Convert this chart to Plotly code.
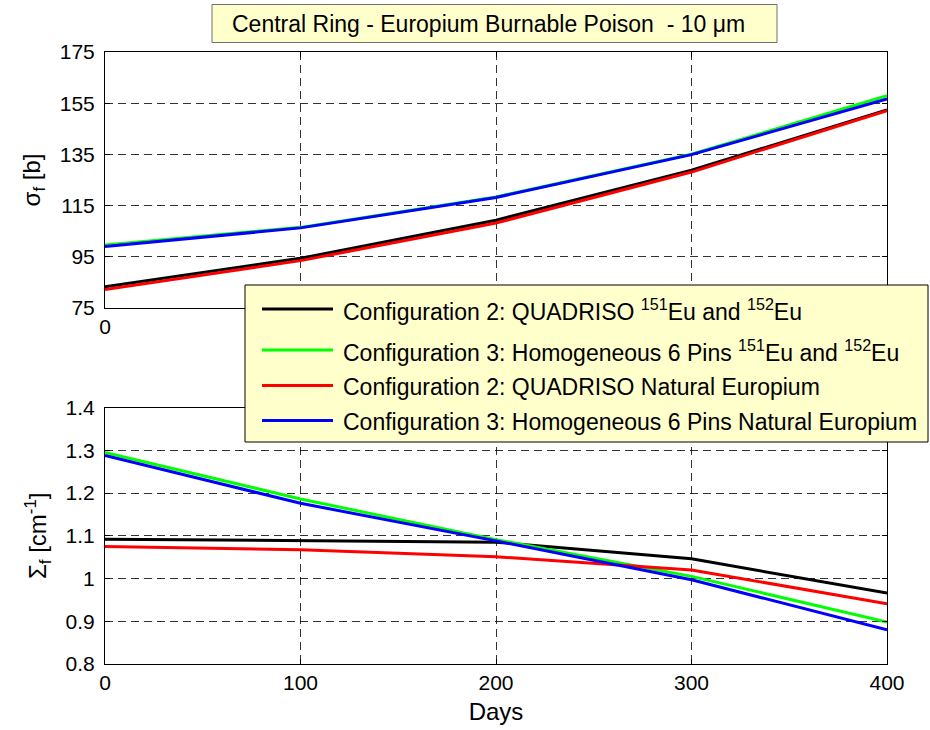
import plotly.graph_objects as go
from plotly.subplots import make_subplots

days = [0, 100, 200, 300, 400]

names = [
    "Configuration 2: QUADRISO <sup>151</sup>Eu and <sup>152</sup>Eu",
    "Configuration 3: Homogeneous 6 Pins <sup>151</sup>Eu and <sup>152</sup>Eu",
    "Configuration 2: QUADRISO Natural Europium",
    "Configuration 3: Homogeneous 6 Pins Natural Europium",
]
colors = ["#000000", "#00ff00", "#ff0000", "#0000ff"]

# microscopic fission cross section [b]
sigma_c2_eu = [83.3, 94.4, 109.3, 128.8, 152.4]
sigma_c3_eu = [99.6, 106.5, 118.4, 135.1, 157.9]
sigma_c2_nat = [82.2, 93.5, 108.2, 128.1, 152.1]
sigma_c3_nat = [99.0, 106.3, 118.2, 134.9, 156.7]

# macroscopic fission cross section [cm^-1]
Sigma_c2_eu = [1.092, 1.088, 1.085, 1.046, 0.966]
Sigma_c3_eu = [1.295, 1.186, 1.091, 1.005, 0.898]
Sigma_c2_nat = [1.075, 1.067, 1.051, 1.020, 0.941]
Sigma_c3_nat = [1.288, 1.176, 1.088, 0.997, 0.880]

sigma_sets = [sigma_c2_eu, sigma_c3_eu, sigma_c2_nat, sigma_c3_nat]
Sigma_sets = [Sigma_c2_eu, Sigma_c3_eu, Sigma_c2_nat, Sigma_c3_nat]

top_yticks = [75, 95, 115, 135, 155, 175]
bot_yticks = [0.8, 0.9, 1.0, 1.1, 1.2, 1.3, 1.4]
bot_ytext = ["0.8", "0.9", "1", "1.1", "1.2", "1.3", "1.4"]

FONT = "Liberation Sans, Arial, sans-serif"
W, H = 930, 730


def px(x):
    return x / W


def py(y):
    return 1 - y / H


fig = make_subplots(rows=2, cols=1)

for i in range(4):
    fig.add_trace(go.Scatter(x=days, y=sigma_sets[i], mode="lines", name=names[i],
                             line=dict(color=colors[i], width=3), showlegend=False),
                  row=1, col=1)
for i in range(4):
    fig.add_trace(go.Scatter(x=days, y=Sigma_sets[i], mode="lines", name=names[i],
                             line=dict(color=colors[i], width=3), showlegend=False),
                  row=2, col=1)

tick_font = dict(family=FONT, size=21, color="black")
title_font = dict(family=FONT, size=24, color="black")
axis_common = dict(
    showline=True, linecolor="black", linewidth=1, mirror="ticks",
    ticks="inside", ticklen=5, tickcolor="black",
    showgrid=True, gridcolor="rgba(0,0,0,0.8)", griddash="8px,5px", gridwidth=1,
    zeroline=False, tickfont=tick_font, automargin=False,
)

xd = [px(105), px(887)]
fig.update_xaxes(row=1, col=1, range=[0, 400], tickvals=days,
                 ticktext=["0", "", "", "", ""], domain=xd, **axis_common)
fig.update_xaxes(row=2, col=1, range=[0, 400], tickvals=days, domain=xd,
                 title=dict(text="Days", font=title_font, standoff=9), **axis_common)

fig.update_yaxes(row=1, col=1, range=[75, 175], tickvals=top_yticks,
                 domain=[py(308), py(52)], ticklabelstandoff=5,
                 title=dict(text="σ<sub>f</sub> [b]", font=title_font, standoff=12),
                 **axis_common)
fig.update_yaxes(row=2, col=1, range=[0.8, 1.4], tickvals=bot_yticks, ticktext=bot_ytext,
                 domain=[py(664), py(407.5)], ticklabelstandoff=5,
                 title=dict(text="Σ<sub>f</sub> [cm<sup>-1</sup>]", font=title_font, standoff=12),
                 **axis_common)

shapes = []
annotations = []

# title box
shapes.append(dict(type="rect", xref="paper", yref="paper",
                   x0=px(212), x1=px(777), y0=py(42.5), y1=py(4.5),
                   fillcolor="#ffffcc", line=dict(color="#707070", width=1), layer="above"))
annotations.append(dict(x=px(230), y=py(24), xref="paper", yref="paper",
                        xanchor="left", yanchor="middle", showarrow=False,
                        text="Central Ring - Europium Burnable Poison \u00a0- 10 μm",
                        font=dict(family=FONT, size=23, color="black")))

# legend box
shapes.append(dict(type="rect", xref="paper", yref="paper",
                   x0=px(245), x1=px(928), y0=py(442), y1=py(285),
                   fillcolor="#ffffcc", line=dict(color="black", width=1), layer="above"))
row_y = [309, 350, 385.5, 420.5]
for i in range(4):
    shapes.append(dict(type="line", xref="paper", yref="paper",
                       x0=px(262), x1=px(333), y0=py(row_y[i]), y1=py(row_y[i]),
                       line=dict(color=colors[i], width=3), layer="above"))
    annotations.append(dict(x=px(341), y=py(row_y[i] + 1), xref="paper", yref="paper",
                            xanchor="left", yanchor="middle", showarrow=False,
                            text=names[i], font=dict(family=FONT, size=23, color="black")))

fig.update_layout(
    width=W, height=H,
    margin=dict(l=0, r=0, t=0, b=0),
    paper_bgcolor="white", plot_bgcolor="white",
    font=dict(family=FONT, size=21, color="black"),
    showlegend=False,
    shapes=shapes,
    annotations=annotations,
)

fig.write_html("out.html")
